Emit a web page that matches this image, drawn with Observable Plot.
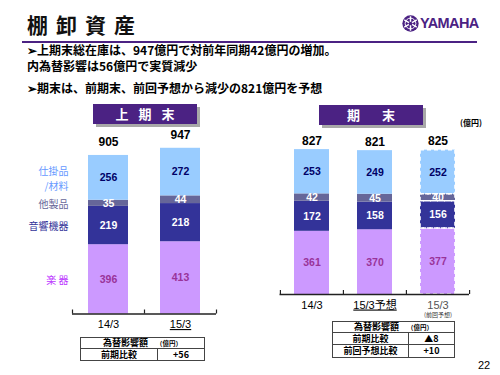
<!DOCTYPE html>
<html><head><meta charset="utf-8">
<script src="https://cdn.jsdelivr.net/npm/d3@7"></script>
<script src="https://cdn.jsdelivr.net/npm/@observablehq/plot@0.6"></script>
<style>
body{margin:0;background:#fff}
#page{position:relative;width:500px;height:375px;overflow:hidden;font-family:"Noto Sans CJK JP","Liberation Sans",sans-serif;color:#000;background:#fff}
.abs{position:absolute;white-space:nowrap}
.box{position:absolute;background:#4b2283;color:#fff;font-weight:bold;font-size:13px;text-align:center;box-shadow:3px 3px 0 #a8a8a8;height:20px;line-height:20px}
.bul{position:absolute;left:27px;font-size:12px;font-weight:bold;line-height:14px;white-space:nowrap}
table{position:absolute;border-collapse:collapse;font-size:9px;font-weight:bold;table-layout:fixed;background:#fff}
td{border:1px solid #444;text-align:center;padding:0;line-height:10px;white-space:nowrap}
td small{font-size:6.5px;margin-left:8px}
svg.chart{position:absolute;left:0;top:0}
</style></head><body>
<div id="page">
  <div class="abs" style="left:27px;top:12px;font-size:21px;font-weight:bold;letter-spacing:8px;line-height:25px;color:#111">棚卸資産</div>
  <svg class="abs" style="left:402px;top:15px" width="17" height="17" viewBox="-10 -10 20 20">
    <circle r="9.6" fill="#4b2283"/>
    <circle r="6.3" fill="none" stroke="#fff" stroke-width="1.1"/>
    <g stroke="#fff" stroke-width="1.7">
      <line x1="0" y1="-8.5" x2="0" y2="8.5"/>
      <line x1="0" y1="-8.5" x2="0" y2="8.5" transform="rotate(60)"/>
      <line x1="0" y1="-8.5" x2="0" y2="8.5" transform="rotate(120)"/>
    </g>
    <circle r="2.2" fill="#4b2283"/>
  </svg>
  <div class="abs" style="left:420px;top:15px;font-family:'Liberation Sans',sans-serif;font-size:14.5px;font-weight:bold;color:#4b2283;letter-spacing:-0.6px;line-height:17px">YAMAHA</div>
  <div class="abs" style="left:22px;top:41px;width:455px;height:2px;background:#4b2283"></div>
  <div class="bul" style="top:43px">➢上期末総在庫は、947億円で対前年同期42億円の増加。</div>
  <div class="bul" style="top:59px">内為替影響は56億円で実質減少</div>
  <div class="bul" style="top:81px">➢期末は、前期末、前回予想から減少の821億円を予想</div>
  <div class="box" style="left:93px;top:104px;width:104px;"><span style="letter-spacing:10px;padding-left:10px">上期末</span></div>
  <div class="box" style="left:319px;top:105px;width:104px;"><span style="letter-spacing:22px;padding-left:22px">期末</span></div>
  <div class="abs" style="left:460px;top:118px;font-size:8px;font-weight:bold;line-height:10px">(億円)</div>
  <div class="abs" style="left:478px;top:359px;font-family:'Liberation Sans',sans-serif;font-size:11px;line-height:13px">22</div>
</div>
<script>
// ---- data ----
const categories = ["楽器", "音響機器", "他製品", "仕掛品/材料"];
const categoryLabels = ["楽 器", "音響機器", "他製品", "仕掛品\n/材料"];

const h1Periods = ["14/3", "15/3"];
const h1Instruments = [396, 413];
const h1Audio = [219, 218];
const h1Other = [35, 44];
const h1Wip = [256, 272];
const h1Totals = [905, 947];

const fyPeriods = ["14/3", "15/3予想", "15/3(前回予想)"];
const fyLabels = ["14/3", "15/3予想", "15/3"];
const fyInstruments = [361, 370, 377];
const fyAudio = [172, 158, 156];
const fyOther = [42, 45, 40];
const fyWip = [253, 249, 252];
const fyTotals = [827, 821, 825];

const fxHeader = "為替影響額";
const fxUnit = "（億円）";
const h1FxRows = [["前期比較", "+56"]];
const fyFxRows = [["前期比較", "▲8"], ["前回予想比較", "+10"]];

// ---- styles ----
const barColors = {"楽器": "#cc99ff", "音響機器": "#333399", "他製品": "#666699", "仕掛品/材料": "#99ccff"};
const valueColors = {"楽器": "#993399", "音響機器": "#ffffff", "他製品": "#ffffff", "仕掛品/材料": "#000066"};
const labelColors = {"楽器": "#bb33ff", "音響機器": "#333399", "他製品": "#666699", "仕掛品/材料": "#6699ff"};
const PX_PER_UNIT = 0.175;
const numFont = "'Liberation Sans Narrow','Liberation Sans',sans-serif";

function makeChart(periods, xLabels, series, totals, opt) {
  const data = periods.flatMap((p, i) => categories.map((c, j) => ({period: p, cat: c, value: series[j][i]})));
  const tot = periods.map((p, i) => ({period: p, total: totals[i]}));
  const n = periods.length;
  const step = (opt.x1 - opt.x0) / n;
  const tickLen = 4 / PX_PER_UNIT;
  const marks = [
    Plot.barY(data, Plot.stackY({x: "period", y: "value", fill: d => barColors[d.cat]})),
  ];
  if (opt.dashedLast) {
    marks.push(Plot.barY(data, Plot.stackY({filter: d => d.period === periods[n - 1], x: "period", y: "value",
      fill: "none", stroke: "white", strokeWidth: 1.6, strokeDasharray: "4,3"})));
  }
  marks.push(
    Plot.text(data, Plot.stackY({x: "period", y: "value", text: d => String(d.value),
      fill: d => valueColors[d.cat], fontWeight: "bold", fontSize: 10.5, fontFamily: numFont})),
    Plot.text(tot, {x: "period", y: "total", text: d => String(d.total), dy: opt.totalDy,
      fontWeight: "bold", fontSize: 12, fill: "#000", fontFamily: "'Liberation Sans',sans-serif"}),
    Plot.ruleY([0], {stroke: "#222", strokeWidth: 1.5}),
    Plot.ruleX(periods, {x: d => d, y1: 0, y2: tickLen, dx: -step / 2, stroke: "#222", strokeWidth: 1.2}),
    Plot.ruleX([periods[n - 1]], {x: d => d, y1: 0, y2: tickLen, dx: step / 2, stroke: "#222", strokeWidth: 1.2}),
    Plot.text(periods, {x: d => d, y: 0, dy: 10.5, text: (d, i) => xLabels[i],
      fill: d => d.includes("前回") ? "#555555" : "#000000", fontSize: 11, fontFamily: "'Liberation Sans','Noto Sans CJK JP',sans-serif"})
  );
  if (opt.dashedLast) {
    marks.push(Plot.text([periods[n - 1]], {x: d => d, y: 0, dy: 21, text: () => "(前回予想)", fontSize: 6, fill: "#333333", fontFamily: "'Noto Sans CJK JP',sans-serif"}));
  }
  if (opt.categoryLabels) {
    marks.push(Plot.text(data, Plot.stackY({filter: d => d.period === periods[0], x: "period", y: "value",
      text: d => categoryLabels[categories.indexOf(d.cat)], fill: d => labelColors[d.cat],
      textAnchor: "end", dx: -40, fontSize: 10, lineHeight: 1.45, fontFamily: "'Noto Sans CJK JP',sans-serif"})));
  }
  const svg = Plot.plot({
    width: 500, height: 375,
    marginLeft: opt.x0, marginRight: 500 - opt.x1,
    marginTop: opt.base - 1000 * PX_PER_UNIT, marginBottom: 375 - opt.base,
    x: {domain: periods, paddingInner: opt.padIn, paddingOuter: opt.padIn / 2, axis: null},
    y: {domain: [0, 1000], axis: null},
    color: {type: "identity"},
    style: {background: "transparent", overflow: "visible", fontFamily: "'Liberation Sans','Noto Sans CJK JP',sans-serif"},
    marks
  });
  svg.classList.add("chart");
  d3.select(svg).selectAll("text").filter(function () { return this.textContent === opt.underline; })
    .style("text-decoration", "underline");
  return svg;
}

const page = document.getElementById("page");
page.appendChild(makeChart(h1Periods, h1Periods, [h1Instruments, h1Audio, h1Other, h1Wip], h1Totals,
  {x0: 72, x1: 216, base: 313.5, padIn: 0.44, totalDy: -13, underline: "15/3", categoryLabels: true}));
page.appendChild(makeChart(fyPeriods, fyLabels, [fyInstruments, fyAudio, fyOther, fyWip], fyTotals,
  {x0: 279.5, x1: 469, base: 294, padIn: 0.45, totalDy: -9, underline: "15/3予想", dashedLast: true}));

function makeTable(rows, left, top, width, split, heights) {
  const t = document.createElement("table");
  t.style.left = left + "px"; t.style.top = top + "px"; t.style.width = width + "px";
  const cg = document.createElement("colgroup");
  [split, width - split].forEach(w => { const c = document.createElement("col"); c.style.width = w + "px"; cg.appendChild(c); });
  t.appendChild(cg);
  const hr = t.insertRow(); hr.style.height = heights[0] + "px";
  const hc = hr.insertCell(); hc.colSpan = 2; hc.innerHTML = fxHeader + "<small>" + fxUnit + "</small>";
  rows.forEach((r, i) => {
    const tr = t.insertRow(); tr.style.height = heights[i + 1] + "px";
    r.forEach(v => { const c = tr.insertCell(); c.textContent = v; });
  });
  page.appendChild(t);
}
makeTable(h1FxRows, 80, 337, 124, 77, [11, 12]);
makeTable(fyFxRows, 332, 321, 122, 76, [10, 12, 13]);
</script>
</body></html>
